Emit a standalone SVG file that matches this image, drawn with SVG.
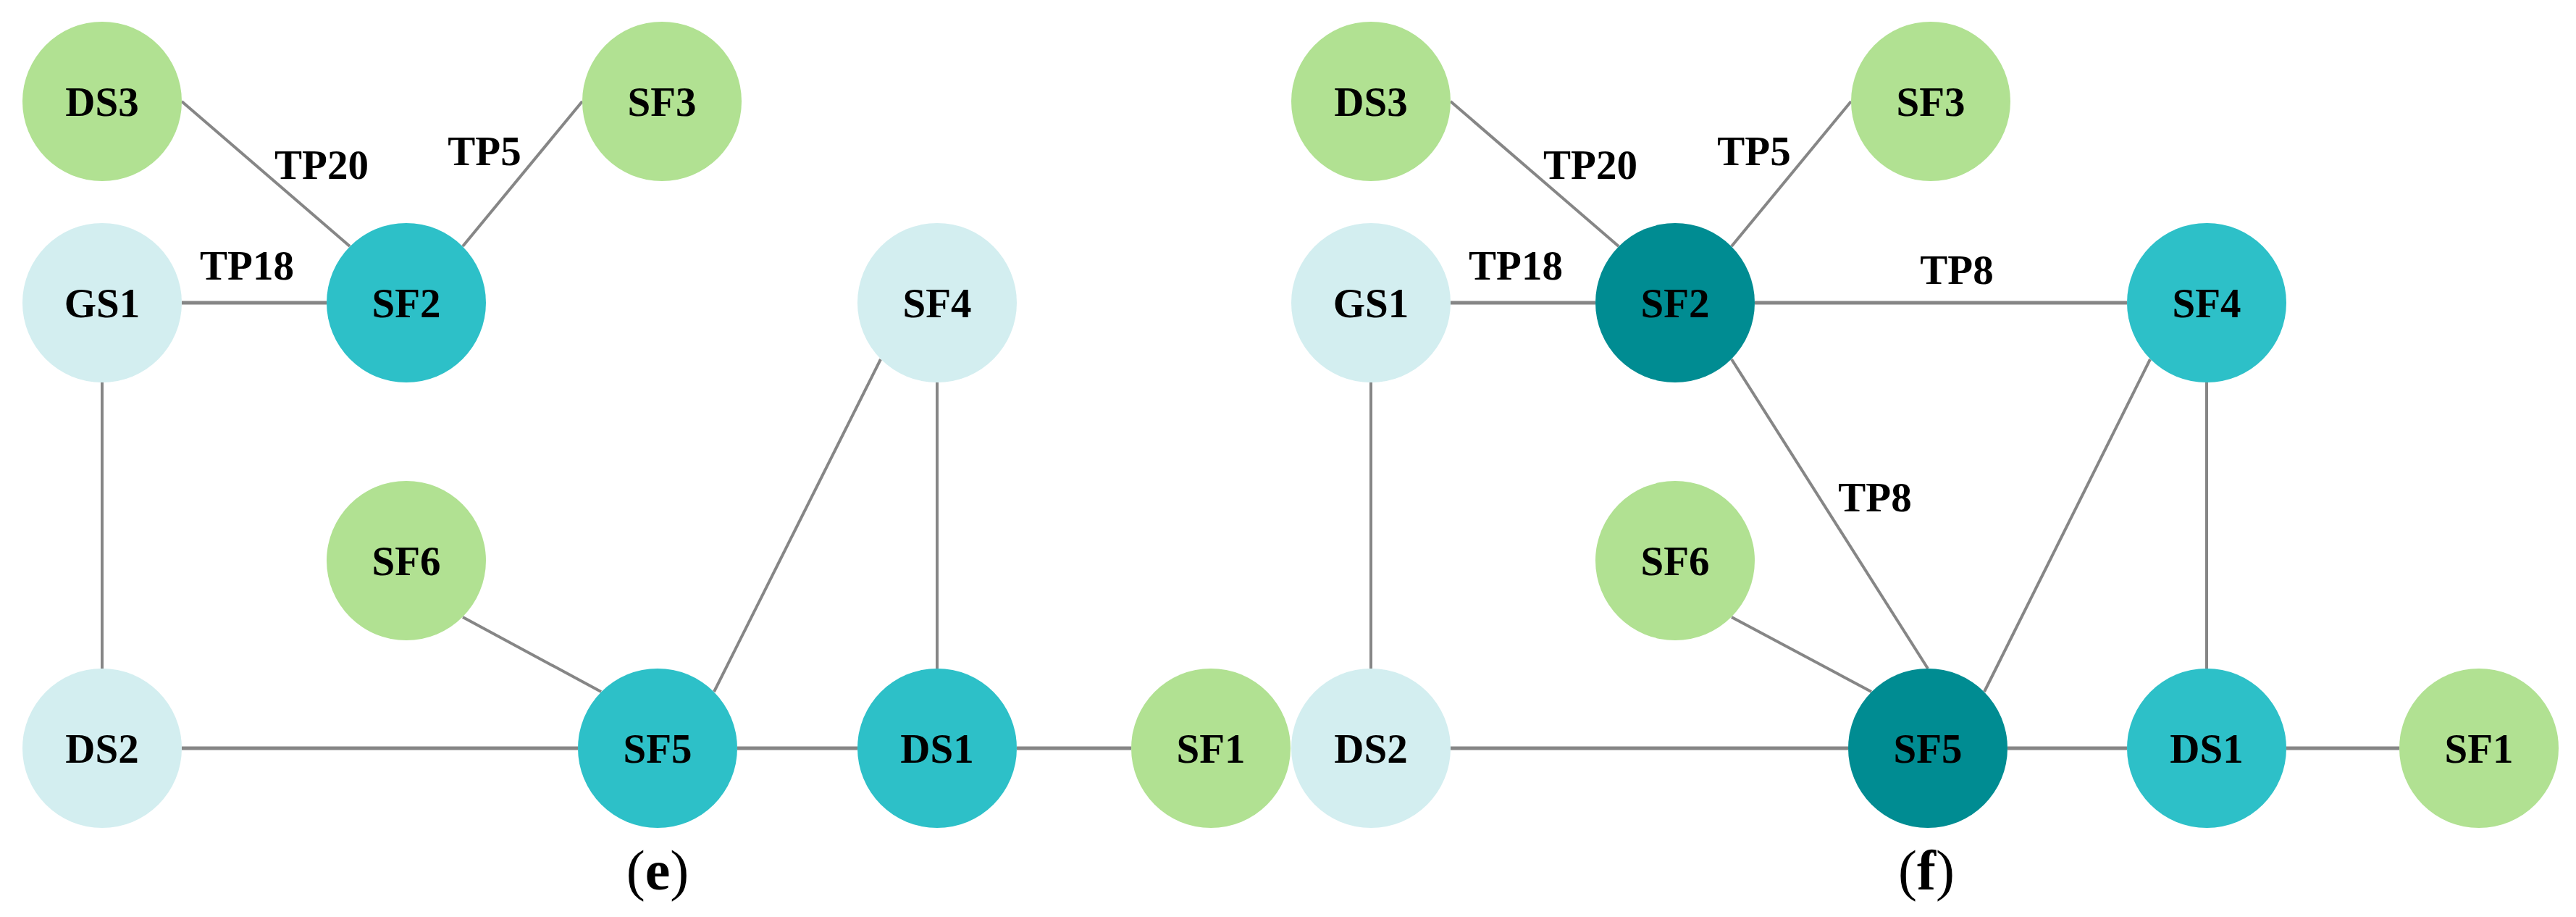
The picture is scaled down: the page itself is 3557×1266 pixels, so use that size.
<svg xmlns="http://www.w3.org/2000/svg" width="3557" height="1266" viewBox="0 0 3557 1266">
<style>
.g{fill:#b1e192}.l{fill:#d3eef0}.t{fill:#2dc0c8}.d{fill:#008c92}
.n text{font-family:"Liberation Serif","Times New Roman",serif;font-weight:bold;font-size:57px;fill:#000;text-anchor:middle}
.lab{font-family:"Liberation Serif","Times New Roman",serif;font-weight:bold;font-size:57px;fill:#000;text-anchor:middle}
.cap{font-family:"Liberation Serif","Times New Roman",serif;font-size:78px;fill:#000;text-anchor:middle}
.e line{stroke:#868686;stroke-width:4;fill:none}
.e line.h{stroke-width:5}
</style>
<rect width="3557" height="1266" fill="#fff"/>
<g id="connectors" class="e">
<line x1="251" y1="140" x2="483" y2="340"/>
<line x1="804" y1="140" x2="639" y2="340"/>
<line class="h" x1="251" y1="418" x2="451" y2="418"/>
<line x1="141" y1="528" x2="141" y2="923"/>
<line class="h" x1="251" y1="1033" x2="798" y2="1033"/>
<line class="h" x1="1018" y1="1033" x2="1184" y2="1033"/>
<line class="h" x1="1404" y1="1033" x2="1562" y2="1033"/>
<line x1="1294" y1="528" x2="1294" y2="923"/>
<line x1="1216" y1="496" x2="986" y2="955"/>
<line x1="639" y1="852" x2="830" y2="955"/>
<line x1="2003" y1="140" x2="2235" y2="340"/>
<line x1="2556" y1="140" x2="2391" y2="340"/>
<line class="h" x1="2003" y1="418" x2="2203" y2="418"/>
<line class="h" x1="2423" y1="418" x2="2937" y2="418"/>
<line x1="1893" y1="528" x2="1893" y2="923"/>
<line class="h" x1="2003" y1="1033" x2="2552" y2="1033"/>
<line class="h" x1="2772" y1="1033" x2="2937" y2="1033"/>
<line class="h" x1="3157" y1="1033" x2="3313" y2="1033"/>
<line x1="3047" y1="528" x2="3047" y2="923"/>
<line x1="2969" y1="496" x2="2740" y2="955"/>
<line x1="2391" y1="496" x2="2662" y2="923"/>
<line x1="2391" y1="852" x2="2584" y2="955"/>
</g>
<g id="edge-labels">
<text class="lab" x="444" y="247">TP20</text>
<text class="lab" x="669" y="228">TP5</text>
<text class="lab" x="341" y="386">TP18</text>
<text class="lab" x="2196" y="247">TP20</text>
<text class="lab" x="2422" y="228">TP5</text>
<text class="lab" x="2093" y="386">TP18</text>
<text class="lab" x="2702" y="392">TP8</text>
<text class="lab" x="2589" y="706">TP8</text>
</g>
<g id="e-DS3" class="n"><circle class="g" cx="141" cy="140" r="110"/><text x="141" y="160">DS3</text></g>
<g id="e-SF3" class="n"><circle class="g" cx="914" cy="140" r="110"/><text x="914" y="160">SF3</text></g>
<g id="e-GS1" class="n"><circle class="l" cx="141" cy="418" r="110"/><text x="141" y="438">GS1</text></g>
<g id="e-SF2" class="n"><circle class="t" cx="561" cy="418" r="110"/><text x="561" y="438">SF2</text></g>
<g id="e-SF4" class="n"><circle class="l" cx="1294" cy="418" r="110"/><text x="1294" y="438">SF4</text></g>
<g id="e-SF6" class="n"><circle class="g" cx="561" cy="774" r="110"/><text x="561" y="794">SF6</text></g>
<g id="e-DS2" class="n"><circle class="l" cx="141" cy="1033" r="110"/><text x="141" y="1053">DS2</text></g>
<g id="e-SF5" class="n"><circle class="t" cx="908" cy="1033" r="110"/><text x="908" y="1053">SF5</text></g>
<g id="e-DS1" class="n"><circle class="t" cx="1294" cy="1033" r="110"/><text x="1294" y="1053">DS1</text></g>
<g id="e-SF1" class="n"><circle class="g" cx="1672" cy="1033" r="110"/><text x="1672" y="1053">SF1</text></g>
<g id="f-DS3" class="n"><circle class="g" cx="1893" cy="140" r="110"/><text x="1893" y="160">DS3</text></g>
<g id="f-SF3" class="n"><circle class="g" cx="2666" cy="140" r="110"/><text x="2666" y="160">SF3</text></g>
<g id="f-GS1" class="n"><circle class="l" cx="1893" cy="418" r="110"/><text x="1893" y="438">GS1</text></g>
<g id="f-SF2" class="n"><circle class="d" cx="2313" cy="418" r="110"/><text x="2313" y="438">SF2</text></g>
<g id="f-SF4" class="n"><circle class="t" cx="3047" cy="418" r="110"/><text x="3047" y="438">SF4</text></g>
<g id="f-SF6" class="n"><circle class="g" cx="2313" cy="774" r="110"/><text x="2313" y="794">SF6</text></g>
<g id="f-DS2" class="n"><circle class="l" cx="1893" cy="1033" r="110"/><text x="1893" y="1053">DS2</text></g>
<g id="f-SF5" class="n"><circle class="d" cx="2662" cy="1033" r="110"/><text x="2662" y="1053">SF5</text></g>
<g id="f-DS1" class="n"><circle class="t" cx="3047" cy="1033" r="110"/><text x="3047" y="1053">DS1</text></g>
<g id="f-SF1" class="n"><circle class="g" cx="3423" cy="1033" r="110"/><text x="3423" y="1053">SF1</text></g>
<g id="captions">
<text class="cap" x="908" y="1228">(<tspan font-weight="bold">e</tspan>)</text>
<text class="cap" x="2660" y="1228">(<tspan font-weight="bold">f</tspan>)</text>
</g>
</svg>
